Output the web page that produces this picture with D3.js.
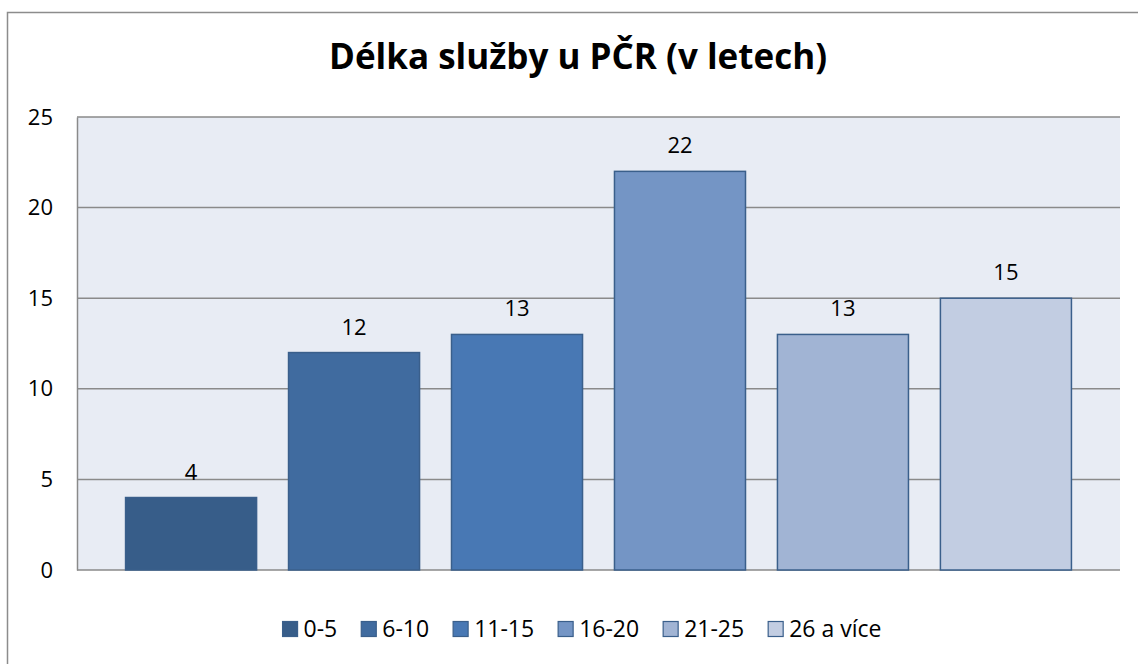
<!DOCTYPE html>
<html>
<head>
<meta charset="utf-8">
<script src="https://cdn.jsdelivr.net/npm/d3@7"></script>
<style>
    html, body { margin: 0; padding: 0; overflow: hidden; background: #fff; }
    svg { display: block; }
    svg text { font-family: "Open Sans", "Noto Sans", sans-serif; fill: #000; }
</style>
</head>
<body>
<div id="chart-container"></div>
<script>
// categories (years of service)
const CATEGORIES = ["0-5", "6-10", "11-15", "16-20", "21-25", "26 a více"];

// number of people per category
const VALUES = [4, 12, 13, 22, 13, 15];

// y axis ticks
const Y_TICKS = [0, 5, 10, 15, 20, 25];

// fill per category
const COLORS = ["#375D89", "#406B9F", "#4878B4", "#7495C5", "#A1B4D4", "#C2CDE2"];

const TITLE = "Délka služby u PČR (v letech)";

function drawChart() {
    // set chart dimensions
    const width = 1138;
    const height = 664;
    const plot = { left: 77, right: 1120, top: 117, bottom: 570 };

    const svg = d3.select("#chart-container")
        .append("svg")
        .attr("width", width)
        .attr("height", height);

    // outer chart border, only the left and top edges are in the picture
    svg.append("path")
        .attr("d", `M7.5,${height} V12.5 H${width}`)
        .attr("fill", "none")
        .attr("stroke", "#8c8c8c")
        .attr("stroke-width", 1.5);

    // title
    svg.append("text")
        .attr("x", 578)
        .attr("y", 69)
        .attr("text-anchor", "middle")
        .attr("font-size", "35px")
        .attr("font-weight", "bold")
        .text(TITLE);

    // x scale
    const x = d3.scaleBand()
        .domain(CATEGORIES)
        .range([plot.left, plot.right])
        .paddingInner(0.196)
        .paddingOuter(0.298);

    // y scale
    const y = d3.scaleLinear()
        .domain([0, 25])
        .range([plot.bottom, plot.top]);

    // plot background
    svg.append("rect")
        .attr("x", plot.left)
        .attr("y", plot.top)
        .attr("width", plot.right - plot.left)
        .attr("height", plot.bottom - plot.top)
        .attr("fill", "#E8ECF4");

    // gridlines
    svg.append("g")
        .selectAll("line")
        .data(Y_TICKS)
        .enter()
        .append("line")
        .attr("x1", plot.left)
        .attr("x2", plot.right)
        .attr("y1", (d) => y(d))
        .attr("y2", (d) => y(d))
        .attr("stroke", "#8a8a8a")
        .attr("stroke-width", 1.5);

    // left axis with tick labels
    const yAxis = svg.append("g")
        .attr("transform", `translate(${plot.left},0)`)
        .call(d3.axisLeft(y).tickValues(Y_TICKS).tickSize(0).tickPadding(24));
    yAxis.select(".domain").attr("stroke", "#8a8a8a").attr("stroke-width", 1.5);
    yAxis.selectAll("text")
        .attr("font-size", "22px")
        .attr("font-family", "Open Sans")
        .attr("fill", "#000");

    const data = CATEGORIES.map((c, i) => ({ cat: c, value: VALUES[i], color: COLORS[i] }));

    // bars
    svg.append("g")
        .selectAll("rect")
        .data(data)
        .enter()
        .append("rect")
        .attr("x", (d) => x(d.cat))
        .attr("y", (d) => y(d.value))
        .attr("width", x.bandwidth())
        .attr("height", (d) => y(0) - y(d.value))
        .attr("fill", (d) => d.color)
        .attr("stroke", "#3A5F8B")
        .attr("stroke-width", 1.5);

    // value labels
    svg.append("g")
        .selectAll("text")
        .data(data)
        .enter()
        .append("text")
        .attr("x", (d) => x(d.cat) + x.bandwidth() / 2)
        .attr("y", (d) => y(d.value) - 18)
        .attr("text-anchor", "middle")
        .attr("font-size", "22px")
        .text((d) => d.value);

    // legend
    const legend = svg.append("g");
    const items = legend.selectAll("g")
        .data(data)
        .enter()
        .append("g");
    items.append("rect")
        .attr("width", 15)
        .attr("height", 15)
        .attr("y", -15.5)
        .attr("fill", (d) => d.color)
        .attr("stroke", "#3A5F8B")
        .attr("stroke-width", 1.2);
    items.append("text")
        .attr("x", 21)
        .attr("font-size", "23px")
        .text((d) => d.cat);

    // lay out legend items side by side
    const gap = 24;
    let offset = 0;
    items.each(function () {
        const w = d3.select(this).select("text").node().getComputedTextLength();
        d3.select(this).attr("transform", `translate(${offset},0)`);
        offset += 21 + w + gap;
    });
    const total = offset - gap;
    legend.attr("transform", `translate(${582 - total / 2},637)`);
}

window.onload = () => {
    drawChart();
};
</script>
</body>
</html>
